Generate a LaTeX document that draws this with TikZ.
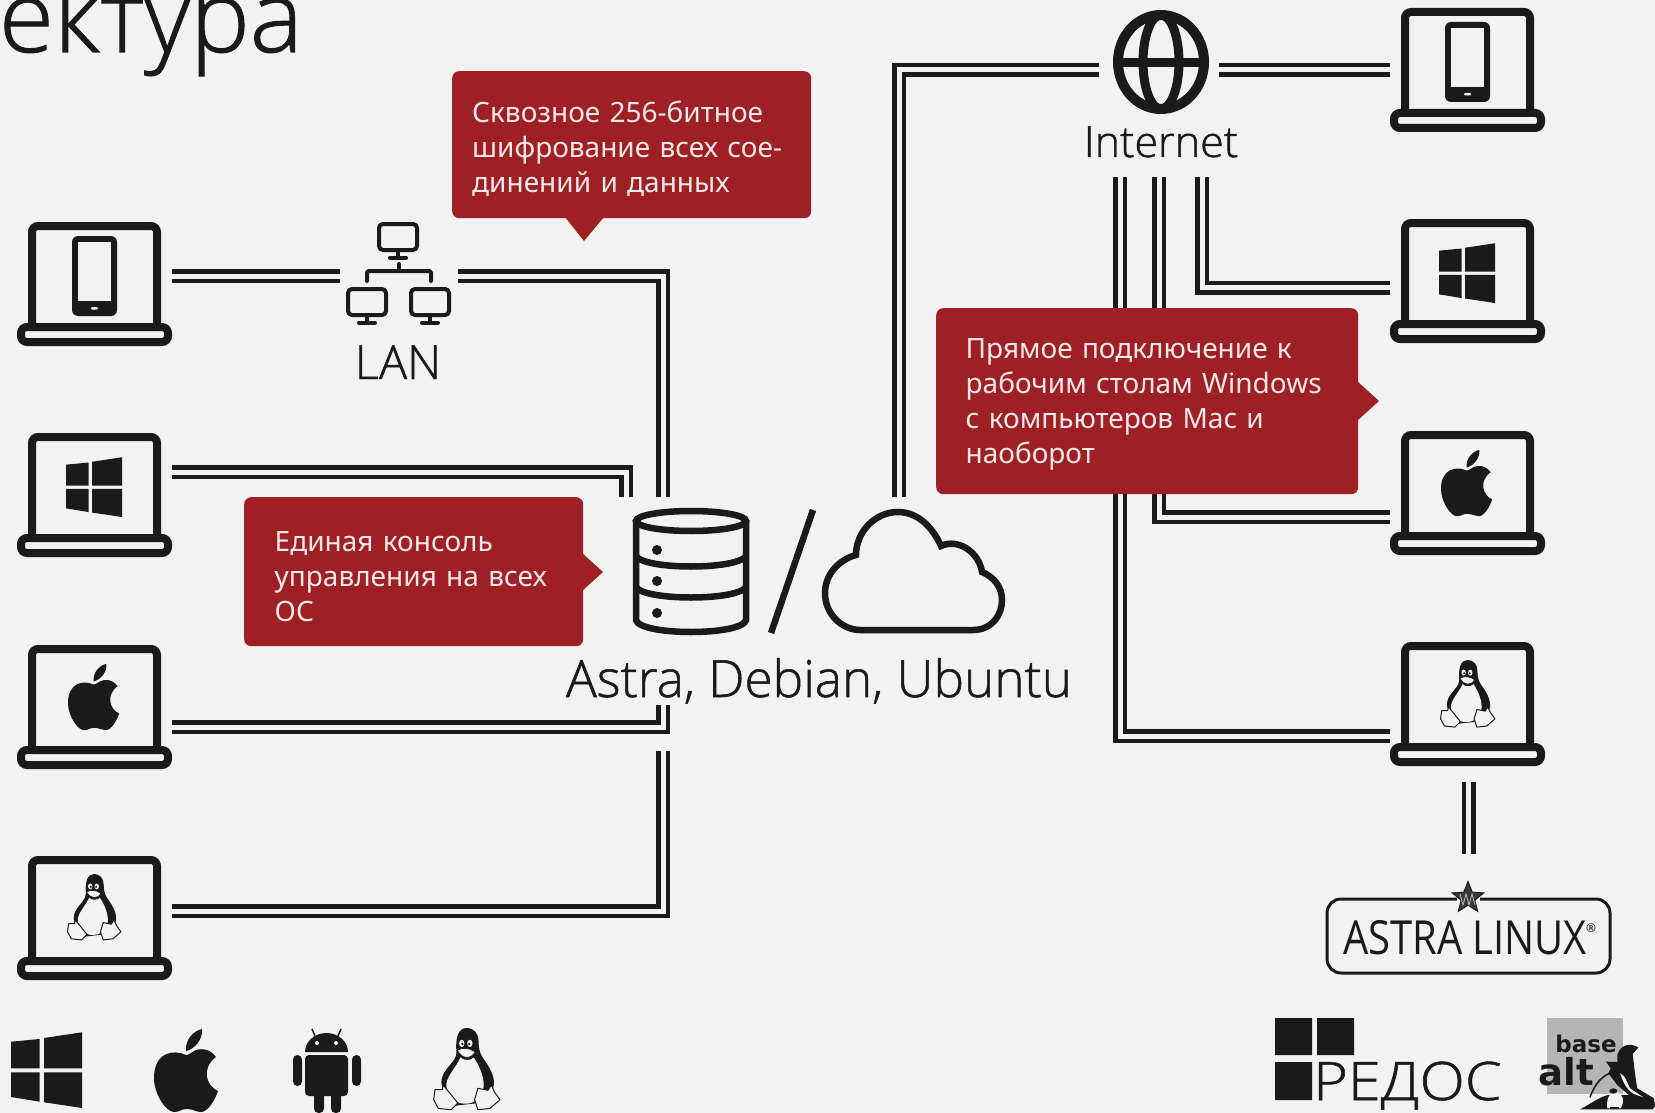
\documentclass[tikz,border=0pt]{standalone}
\usepackage{fontspec}
\setmainfont{Noto Sans}
\newfontfamily\lightf{Open Sans Light}[FakeBold=1]
\newfontfamily\regf{Open Sans}
\newfontfamily\heavyf{DejaVu Sans}
\usetikzlibrary{calc,shapes.geometric}
\definecolor{bg}{HTML}{F2F2F2}
\definecolor{ink}{HTML}{1A1A1A}
\definecolor{brick}{HTML}{9E2024}
\definecolor{pale}{HTML}{F6E8E8}
\tikzset{
  wire/.style={draw=ink,line width=4.5pt,double=bg,double distance=5pt,line join=miter},
  redbox/.style={fill=brick,rounded corners=7pt,anchor=north west,text=pale,align=left,
    inner sep=0pt,font=\fontsize{28}{35}\selectfont},
  lab/.style={text=ink,inner sep=0pt,anchor=base},
  ico/.style={draw=ink,line cap=round,line join=round}
}
\newcommand\laptop[2]{\begin{scope}[shift={(#1,#2)}]
  \draw[ink,line width=8pt,rounded corners=6pt] (15,105)--(15,4)--(140,4)--(140,105);
  \draw[ink,line width=8pt,rounded corners=6pt] (4,105) rectangle (151,120);
\end{scope}}
\newcommand\winlogo[3]{\begin{scope}[shift={(#1,#2)},scale=#3]
  \fill[ink] (0,9.7)--(28.7,7)--(28.7,36.3)--(0,36.3)--cycle
   (33,6)--(71,0.3)--(71,36.3)--(33,36.3)--cycle
   (0,40.3)--(28.7,40.3)--(28.7,69.7)--(0,65)--cycle
   (33,40.3)--(71,40.3)--(71,76)--(33,70.3)--cycle;
\end{scope}}
\newcommand\applelogo[3]{\begin{scope}[shift={(#1,#2)},scale=#3]
  \fill[ink] (32,27) .. controls (20,21) and (0,24) .. (0,50) .. controls (0,66) and (12,84) .. (20,84)
   .. controls (26,84) and (27,81) .. (33,81) .. controls (39,81) and (42,84) .. (47,84)
   .. controls (54,84) and (61,72) .. (64,63) .. controls (52,58) and (47,40) .. (62,29)
   .. controls (56,20) and (45,20) .. (40,23) .. controls (37,25) and (34,27) .. (32,27) -- cycle;
  \fill[ink] (32,23) .. controls (31,12) and (39,3) .. (48,1) .. controls (49,11) and (41,21) .. (32,23) -- cycle;
\end{scope}}
\newcommand\tux[3]{\begin{scope}[shift={(#1,#2)},scale=#3]
  % silhouette
  \fill[ink] (50,0) .. controls (61,0) and (68,8) .. (68,20) .. controls (68,30) and (70,38) .. (74,44)
   .. controls (82,55) and (92,70) .. (91,84) .. controls (91,92) and (85,94) .. (78,92) -- (68,112)
   -- (32,116) -- (20,96) .. controls (12,90) and (10,80) .. (16,68) .. controls (24,54) and (35,48) .. (35,36)
   .. controls (33,14) and (38,0) .. (50,0) -- cycle;
  % belly
  \fill[bg] (41,44) .. controls (46,49) and (56,49) .. (61,44) .. controls (70,58) and (78,76) .. (75,92)
   .. controls (72,106) and (60,113) .. (48,113) .. controls (32,113) and (22,102) .. (20,88)
   .. controls (18,74) and (34,60) .. (41,44) -- cycle;
  % eyes, muzzle
  \fill[bg] (43,23) ellipse (4 and 5.5) (55,23) ellipse (4 and 5.5);
  \fill[ink] (44,24) circle (2) (54,24) circle (2);
  \fill[bg,draw=ink,line width=.7pt] (36,33) .. controls (44,29) and (54,29) .. (63,36) .. controls (56,47) and (44,47) .. (36,33) -- cycle;
  % feet
  \filldraw[fill=bg,draw=ink,line width=1pt,line join=round] (1,107)--(3,92)--(14,92)--(15,85)--(25,97)--(37,112)--(27,122)--(8,120)--cycle;
  \filldraw[fill=bg,draw=ink,line width=1pt,line join=round] (67,90)--(82,93)--(87,85)--(92,96)--(100,107)--(85,120)--(67,122)--(62,107)--cycle;
\end{scope}}
\newcommand\phoneicon[2]{\begin{scope}[shift={(#1,#2)}]
  \fill[ink,rounded corners=6pt] (0,0) rectangle (45,80);
  \fill[bg] (6,6) rectangle (39,65);
  \fill[bg,rounded corners=1pt] (19,71) rectangle (26,73.5);
\end{scope}}
\newcommand\monitor[2]{\begin{scope}[shift={(#1,#2)}]
  \draw[ico,line width=4pt,rounded corners=4pt] (2,2) rectangle (40,28);
  \draw[ico,line width=4pt] (21,28)--(21,35);
  \draw[ico,line width=4pt] (13,35.5)--(29,35.5);
\end{scope}}
\begin{document}
\begin{tikzpicture}[x=1pt,y=-1pt]
\useasboundingbox (0,0) rectangle (1655,1113);
\fill[bg] (0,0) rectangle (1655,1113);
% title fragment
\node[lab,anchor=base east,font=\lightf\fontsize{100}{100}\selectfont] (title) at (303,52) {ектура};
% wire ends
\coordinate (lp1) at (172,276);
\coordinate (lan1) at (340,276);
\coordinate (lan2) at (458,276);
\coordinate (dbA) at (663,497);
\coordinate (lw) at (172,472);
\coordinate (dbB) at (626,497);
\coordinate (la) at (172,727);
\coordinate (txA) at (663,705);
\coordinate (ll) at (172,911);
\coordinate (txB) at (663,751);
\coordinate (cl) at (899,497);
\coordinate (ne1) at (1099,70);
\coordinate (ne2) at (1219,70);
\coordinate (rp) at (1390,70);
\coordinate (nv1) at (1120,177);
\coordinate (nv2) at (1159,177);
\coordinate (nv3) at (1202,177);
\coordinate (rw) at (1390,287.5);
\coordinate (ra) at (1390,517);
\coordinate (rl) at (1390,736);
\coordinate (ru) at (1468.7,782);
\coordinate (as) at (1468.7,854);
% wires
\draw[wire] (lp1) -- (lan1);
\draw[wire] (lan2) -| (dbA);
\draw[wire] (lw) -| (dbB);
\draw[wire] (la) -| (txA);
\draw[wire] (ll) -| (txB);
\draw[wire] (ne1) -| (cl);
\draw[wire] (ne2) -- (rp);
\draw[wire] (nv1) |- (rl);
\draw[wire] (nv2) |- (ra);
\draw[wire] (nv3) |- (rw);
\draw[wire] (ru) -- (as);
% laptops
\laptop{17}{222}\laptop{17}{433}\laptop{17}{645}\laptop{17}{856}
\laptop{1390}{8}\laptop{1390}{219}\laptop{1390}{431}\laptop{1390}{642}
% screen content
\phoneicon{72}{236}\phoneicon{1445}{22}
\winlogo{66}{457}{.79}\winlogo{1439}{243}{.79}
\applelogo{68}{663}{.8}\applelogo{1441}{449}{.8}
\tux{67}{874}{.54}\tux{1440}{660}{.55}
% LAN icon
\monitor{377}{222}\monitor{346}{287}\monitor{409}{287}
\draw[ico,line width=4pt] (399,264)--(399,271);
\draw[ico,line width=4pt,rounded corners=2pt] (367,281)--(367,271)--(431,271)--(431,281);
\node[lab,font=\lightf\fontsize{47}{47}\selectfont] (lan) at (398,379) {LAN};
% globe
\draw[ink,line width=10pt] (1161,62) ellipse (43 and 47);
\draw[ink,line width=9pt] (1161,62) ellipse (18 and 47);
\draw[ink,line width=9pt] (1120,63)--(1202,63);
\node[lab,font=\lightf\fontsize{43}{43}\selectfont] (inet) at (1161,157) {Internet};
% database
\begin{scope}[ink,line width=6.5pt]
  \draw (691,521) ellipse (55 and 10);
  \draw (636,521)--(636,620) .. controls (640,636) and (742,636) .. (746,620)--(746,521);
  \draw (636,556) .. controls (645,570) and (737,570) .. (746,556);
  \draw (636,587) .. controls (645,601) and (737,601) .. (746,587);
  \fill (657,550) circle (5) (657,581) circle (5) (657,613) circle (5);
\end{scope}
\draw[ink,line width=6.5pt] (813,510)--(771,633);
\draw[ink,line width=6.5pt,line join=miter] (860,630) -- (973,630) .. controls (992,630) and (1002,615) .. (1002,600)
  .. controls (1002,587) and (994,577) .. (982,572) .. controls (979,552) and (958,538) .. (941,546)
  .. controls (932,526) and (917,512) .. (898,512) .. controls (875,512) and (856,532) .. (856,555)
  .. controls (838,560) and (825,575) .. (825,593) .. controls (825,615) and (843,630) .. (860,630) -- cycle;
\node[lab,font=\lightf\fontsize{51.3}{51}\selectfont] (srv) at (819,697) {Astra, Debian, Ubuntu};
% red callouts
\node[redbox,minimum width=359pt,minimum height=147pt,text width=319pt] (box1) at (452,71)
 {\rule{0pt}{30pt}Сквозное 256-битное\\шифрование всех сое-\\динений и данных};
\fill[brick] (565,217)--(604,217)--(584,241)--cycle;
\node[redbox,minimum width=339pt,minimum height=149pt,text width=278pt] (box2) at (244,497)
 {\rule{0pt}{30pt}Единая консоль\\управления на всех\\ОС};
\fill[brick] (582,553)--(582,591)--(603,572)--cycle;
\node[redbox,minimum width=422pt,minimum height=186pt,text width=363pt] (box3) at (936,308)
 {\rule{0pt}{26pt}Прямое подключение к\\рабочим столам Windows\\с компьютеров Mac и\\наоборот};
\fill[brick] (1357,381)--(1357,421)--(1379,401)--cycle;
% astra logo
\draw[ink,line width=3pt,rounded corners=14pt] (1457,899)--(1327,899)--(1327,973)--(1610,973)--(1610,899)--(1480,899);
\node[star,star points=5,star point ratio=2.3,fill=ink!85!bg,draw=ink,inner sep=0pt,minimum size=33pt,line width=1pt] (astar) at (1468,898) {};
\draw[bg!70!ink,line width=.9pt] (1460,894)--(1463,905)--(1466,894)--(1469,905)--(1472,894)--(1475,905);
\node[lab,anchor=base west,font=\regf\fontsize{47}{47}\selectfont,xscale=.85] (astra) at (1343,954) {ASTRA LINUX};
\node[lab,font=\fontsize{12}{12}\selectfont] (reg) at (1591,932) {®};
% bottom icons
\winlogo{11}{1032}{1}
\applelogo{154}{1028}{1}
\begin{scope}[ink]
  \fill (305,1052) arc (180:360:21.5 and 19) -- cycle;
  \fill[rounded corners=4pt] (305,1055) rectangle (348,1096);
  \fill[rounded corners=4.5pt] (293,1055) rectangle (302,1086) (352,1055) rectangle (361,1086);
  \fill[rounded corners=4.5pt] (314,1085) rectangle (324,1113) (331,1085) rectangle (341,1113);
  \draw[line width=1.5pt] (315,1036)--(312,1029) (338,1036)--(341,1029);
  \fill[bg] (317,1043) circle (2) (336,1043) circle (2);
\end{scope}
\tux{433}{1028}{.67}
% РЕДОС
\fill[ink] (1275,1018) rectangle (1312,1055) (1317,1018) rectangle (1354,1055) (1275,1062) rectangle (1312,1100);
\node[lab,anchor=base west,font=\lightf\fontsize{53}{53}\selectfont,xscale=1.12] (redos) at (1313,1100) {РЕДОС};
% base alt
\fill[black!29] (1547,1018) rectangle (1623,1094);
\node[lab,font=\heavyf\bfseries\fontsize{23}{23}\selectfont] (ba) at (1586,1052) {base};
\node[lab,font=\heavyf\bfseries\fontsize{37}{37}\selectfont] (al) at (1566,1085) {alt};
\begin{scope}[shift={(1530,1010)},scale=.3333]
  \fill[ink] (150,298) .. controls (185,280) and (205,262) .. (235,255) -- (300,255) -- (375,288) -- (368,298) -- cycle;
  \draw[ink,line width=1.5pt] (238,190) .. controls (205,205) and (190,235) .. (180,262);
  \fill[ink] (325,112) .. controls (300,98) and (272,102) .. (262,135) -- (262,156) -- (228,155) -- (242,175) -- (235,190)
    -- (262,225) -- (300,258) -- (375,290) -- (372,265) -- (322,235) .. controls (315,200) and (312,160) .. (308,132) -- cycle;
  \fill[bg] (270,190) .. controls (280,215) and (285,235) .. (312,252) -- (340,262) -- (300,235) .. controls (290,215) and (285,195) .. (270,190) -- cycle;
  \fill[bg] (232,295) .. controls (228,265) and (240,245) .. (258,245) .. controls (280,250) and (285,275) .. (272,295) -- cycle;
  \fill[ink] (250,243) ellipse (12 and 8);
  \fill[ink] (240,297) rectangle (268,290);
\end{scope}
\end{tikzpicture}
\end{document}
